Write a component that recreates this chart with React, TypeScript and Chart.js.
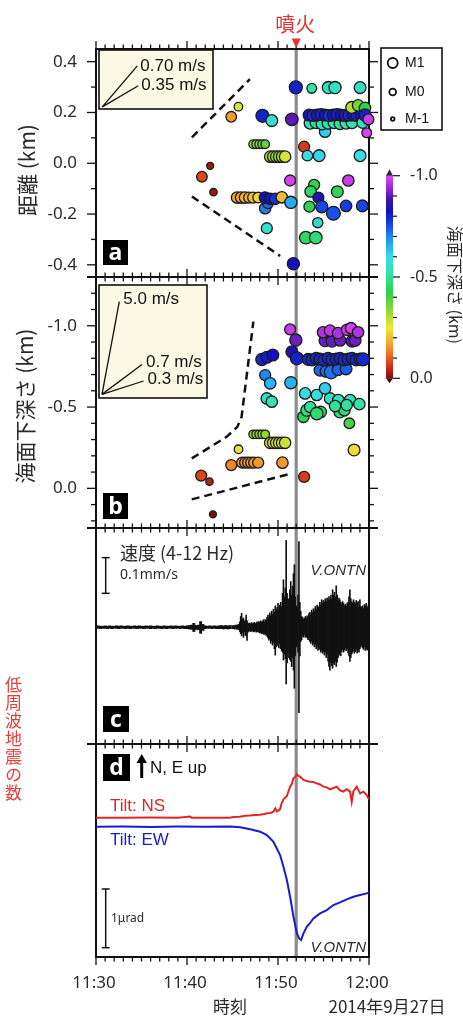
import React, { useEffect, useRef } from "react";
import { Chart, registerables } from "chart.js";
Chart.register(...registerables);

// ---------------- data ----------------
// time axis: minutes after 11:30
const xTickVals = [0, 10, 20, 30];
const xTickLabels = ["11:30", "11:40", "11:50", "12:00"];
const eruptionT = 22; // 11:52

// panel a: distance (km) vs time, colour = depth
const aT = [11.64, 12.55, 12.91, 14.86, 15.65, 17.27, 17.6, 17.93, 18.26, 18.59, 18.29, 19.32,
  19.14, 19.47, 19.8, 20.12, 20.45, 20.78,
  15.5, 15.94, 16.38, 16.83, 17.27, 17.82,
  18.77, 18.59, 18.9, 18.57, 19.14, 19.69, 20.42, 21.33, 21.41, 21.69, 21.96, 21.52,
  22.87, 23.23, 24.52, 29.02, 23.71, 25.54, 26.27, 29.02, 25.17,
  23.53, 24.19, 24.84, 25.5, 26.16, 26.82, 27.48, 28.14,
  23.42, 23.86, 24.3, 24.74, 25.18, 25.62, 26.06, 26.5, 26.93, 27.37, 27.81, 28.25, 28.69, 29.13,
  28.1, 28.8, 29.56, 29.3, 29.56, 29.75, 29.93,
  23.97, 23.58, 26.52, 27.73, 24.44, 23.45, 24.81, 26.09, 27.48, 29.27, 24.37, 23.05, 24.15];
const aDist = [-0.053, -0.01, -0.114, 0.183, 0.223, 0.075, 0.075, 0.075, 0.075, 0.075, 0.187, 0.168,
  0.026, 0.026, 0.026, 0.026, 0.026, 0.026,
  -0.135, -0.135, -0.135, -0.135, -0.135, -0.135,
  -0.256, -0.177, -0.157, -0.135, -0.14, -0.14, -0.134, -0.068, -0.154, -0.396, 0.299, 0.173,
  0.065, 0.03, 0.03, 0.03, 0.295, 0.298, 0.298, 0.298, 0.124,
  0.158, 0.16, 0.155, 0.158, 0.16, 0.156, 0.158, 0.16,
  0.19, 0.188, 0.19, 0.192, 0.19, 0.188, 0.19, 0.192, 0.19, 0.188, 0.19, 0.19, 0.188, 0.19,
  0.22, 0.228, 0.218, 0.16, 0.19, 0.12, 0.173,
  -0.085, -0.111, -0.112, -0.068, -0.135, -0.171, -0.171, -0.197, -0.168, -0.168, -0.234, -0.293, -0.293];
const aDepth = [-0.08, -0.02, -0.02, -0.16, -0.27, -0.33, -0.34, -0.35, -0.35, -0.38, -0.8, -0.56,
  -0.31, -0.32, -0.31, -0.33, -0.32, -0.27,
  -0.18, -0.17, -0.19, -0.18, -0.2, -0.23,
  -0.57, -0.7, -0.72, -0.82, -0.84, -0.78, -0.2, -0.99, -0.66, -0.82, -0.8, -0.9,
  -0.07, -0.6, -0.61, -0.6, -0.52, -0.54, -0.55, -0.55, -0.62,
  -0.55, -0.5, -0.56, -0.52, -0.55, -0.5, -0.54, -0.52,
  -0.83, -0.79, -0.85, -0.8, -0.83, -0.78, -0.84, -0.8, -0.82, -0.86, -0.79, -0.83, -0.8, -0.84,
  -0.3, -0.36, -0.42, -0.55, -0.8, -0.99, -0.98,
  -0.43, -0.45, -0.44, -0.98, -0.84, -0.43, -0.76, -0.75, -0.77, -0.76, -0.56, -0.45, -0.47];
const aMag = [0.2, -0.7, -0.6, 0.2, -0.3, -0.3, -0.3, -0.3, -0.3, -0.3, 0.8, 0.5,
  0.4, 0.4, 0.4, 0.4, 0.4, 0.4,
  0.4, 0.4, 0.4, 0.3, 0.3, 0.2,
  0.3, 0.4, 0.3, 0.4, 0.4, 0.4, 0.4, 0.3, 0.6, 0.6, 0.8, 0.7,
  0.3, 0.2, 0.5, 0.5, 0.0, 0.6, 0.6, 0.5, 0.4,
  0.5, 0.5, 0.5, 0.5, 0.5, 0.5, 0.5, 0.5,
  0.5, 0.5, 0.5, 0.5, 0.5, 0.5, 0.5, 0.5, 0.5, 0.5, 0.5, 0.5, 0.5, 0.5,
  0.5, 0.4, 0.4, 0.4, 0.6, 0.0, 0.3,
  0.3, 0.4, 0.5, 0.4, 0.3, 0.3, 0.6, 1.0, 0.4, 0.5, 0.1, 0.7, 0.7];

// panel b: depth below sea level (km) vs time
const bT = [11.56, 12.47, 12.85, 14.86, 15.66, 16.06, 16.39, 16.72, 17.05, 17.38, 17.82, 20.49,
  17.27, 17.6, 17.93, 18.26, 18.59, 19.14, 19.47, 19.8, 20.12, 20.45, 20.78, 22.87,
  18.77, 19.32, 18.59, 19.14, 21.41, 18.23, 18.77, 19.43, 21.33, 21.96, 21.52, 22.07,
  22.79, 23.16, 23.53, 24.7, 26.8, 27.3, 24.26,
  25.72, 26.63, 27.92, 28.94, 27.55, 26.27,
  22.98, 24.26, 25.17, 27.84, 28.36,
  24.62, 25.28, 25.83, 26.6, 27.48,
  23.31, 23.75, 24.19, 24.62, 25.06, 25.5, 25.94, 26.38, 26.82, 27.26, 27.7, 28.14, 28.58, 29.02, 29.35,
  25.17, 25.94, 26.82, 28.14, 28.47,
  24.95, 25.72, 26.6, 27.58, 28.03, 28.8];
const bDepth = [-0.078, -0.041, 0.16, -0.143, -0.24, -0.158, -0.158, -0.158, -0.158, -0.158, -0.158, -0.158,
  -0.332, -0.332, -0.332, -0.332, -0.332, -0.28, -0.28, -0.28, -0.28, -0.28, -0.28, -0.071,
  -0.553, -0.533, -0.697, -0.646, -0.65, -0.793, -0.806, -0.82, -0.978, -0.912, -0.84, -0.8,
  -0.44, -0.48, -0.5, -0.47, -0.47, -0.48, -0.46,
  -0.553, -0.543, -0.543, -0.518, -0.512, -0.506,
  -0.584, -0.574, -0.615, -0.4, -0.236,
  -0.727, -0.72, -0.715, -0.73, -0.735,
  -0.793, -0.79, -0.8, -0.795, -0.79, -0.8, -0.792, -0.795, -0.8, -0.79, -0.795, -0.8, -0.79, -0.795, -0.793,
  -0.908, -0.905, -0.91, -0.905, -0.91,
  -0.96, -0.97, -0.955, -0.975, -0.985, -0.96];
const bMag = [0.3, -0.6, -0.7, 0.3, -0.3, 0.3, 0.3, 0.3, 0.3, 0.3, 0.3, 0.4,
  -0.3, -0.3, -0.3, -0.3, -0.3, 0.4, 0.4, 0.4, 0.4, 0.4, 0.4, 0.3,
  0.4, 0.4, 0.3, 0.4, 0.6, 0.6, 0.5, 0.5, 0.3, 0.6, 0.5, 0.8,
  0.4, 0.5, 0.4, 0.4, 0.5, 0.4, 0.7,
  0.4, 0.4, 0.4, 0.4, 0.4, 0.4,
  0.4, 0.4, 0.4, 0.2, 0.5,
  0.5, 0.5, 0.9, 0.5, 0.5,
  0.5, 0.5, 0.5, 0.5, 0.5, 0.5, 0.5, 0.5, 0.5, 0.5, 0.5, 0.5, 0.5, 0.5, 0.8,
  0.5, 0.5, 0.4, 0.5, 0.5,
  0.4, 0.4, 0.4, 0.4, 0.4, 0.4];

// dashed guide lines
const aUpperT = [10.54, 16.91];
const aUpperY = [0.102, 0.331];
const aLowerT = [10.54, 20.23];
const aLowerY = [-0.131, -0.365];
const bUpperT = [10.52, 14.36, 15.53, 16.0, 17.29];
const bUpperY = [-0.184, -0.317, -0.378, -0.44, -1.025];
const bLowerT = [10.52, 21.13];
const bLowerY = [0.068, -0.086];

// velocity reference lines (m/s)
const aVel = [0.7, 0.35];
const aVelDt = [3.85, 3.96];
const aVelLabels = ["0.70 m/s", "0.35 m/s"];
const aVelOrigin = [0.69, 0.222];
const bVel = [5.0, 0.7, 0.3];
const bVelDt = [1.9, 4.39, 4.57];
const bVelLabels = ["5.0 m/s", "0.7 m/s", "0.3 m/s"];
const bVelOrigin = [0.66, -0.578];

// panel c: velocity seismogram envelope (mm/s), active part sampled every 0.1 min from 15.0
const waveT0 = 15.0;
const waveDt = 0.1;
const waveHi = [
  0.004, 0.005, 0.004, 0.006, 0.005, 0.007, 0.006, 0.008, 0.015, 0.03,
  0.039, 0.022, 0.026, 0.016, 0.02, 0.034, 0.018, 0.012, 0.01, 0.012,
  0.009, 0.013, 0.01, 0.011, 0.014, 0.01, 0.012, 0.015, 0.011, 0.016,
  0.013, 0.018, 0.014, 0.017, 0.021, 0.016, 0.022, 0.019, 0.028, 0.034,
  0.026, 0.04, 0.032, 0.045, 0.036, 0.05, 0.042, 0.06, 0.048, 0.055,
  0.067, 0.05, 0.062, 0.07, 0.058, 0.095, 0.133, 0.085, 0.11, 0.243,
  0.095, 0.08, 0.077, 0.105, 0.128, 0.09, 0.115, 0.15, 0.175, 0.085,
  0.06, 0.055, 0.09, 0.24, 0.07, 0.045, 0.03, 0.028, 0.022, 0.025,
  0.03, 0.024, 0.032, 0.028, 0.038, 0.042, 0.035, 0.048, 0.04, 0.052,
  0.045, 0.058, 0.05, 0.062, 0.055, 0.058, 0.07, 0.062, 0.077, 0.068,
  0.075, 0.07, 0.08, 0.072, 0.082, 0.078, 0.086, 0.075, 0.09, 0.08,
  0.105, 0.09, 0.098, 0.085, 0.116, 0.09, 0.075, 0.082, 0.077, 0.07,
  0.065, 0.072, 0.067, 0.06, 0.064, 0.058, 0.067, 0.07, 0.085, 0.105,
  0.08, 0.072, 0.068, 0.077, 0.07, 0.065, 0.075, 0.068, 0.072, 0.06,
  0.077, 0.058, 0.055, 0.06, 0.052, 0.064, 0.058, 0.067, 0.055, 0.06];
const waveLo = [
  -0.004, -0.004, -0.005, -0.005, -0.004, -0.006, -0.005, -0.007, -0.012, -0.018,
  -0.024, -0.016, -0.028, -0.013, -0.022, -0.024, -0.037, -0.014, -0.011, -0.01,
  -0.012, -0.011, -0.009, -0.013, -0.012, -0.01, -0.014, -0.012, -0.013, -0.014,
  -0.016, -0.015, -0.018, -0.016, -0.019, -0.02, -0.018, -0.023, -0.025, -0.03,
  -0.036, -0.032, -0.045, -0.038, -0.05, -0.042, -0.06, -0.078, -0.055, -0.048,
  -0.052, -0.058, -0.045, -0.06, -0.066, -0.07, -0.092, -0.075, -0.088, -0.159,
  -0.1, -0.072, -0.085, -0.09, -0.095, -0.11, -0.085, -0.12, -0.171, -0.08,
  -0.055, -0.05, -0.07, -0.239, -0.08, -0.04, -0.035, -0.025, -0.028, -0.02,
  -0.028, -0.026, -0.03, -0.035, -0.033, -0.04, -0.045, -0.038, -0.05, -0.045,
  -0.055, -0.048, -0.06, -0.052, -0.065, -0.058, -0.062, -0.07, -0.066, -0.073,
  -0.068, -0.078, -0.07, -0.085, -0.075, -0.095, -0.11, -0.12, -0.098, -0.108,
  -0.115, -0.1, -0.105, -0.095, -0.11, -0.098, -0.085, -0.078, -0.073, -0.08,
  -0.068, -0.062, -0.07, -0.064, -0.058, -0.066, -0.06, -0.072, -0.08, -0.096,
  -0.085, -0.075, -0.07, -0.065, -0.073, -0.068, -0.062, -0.072, -0.065, -0.07,
  -0.06, -0.055, -0.05, -0.058, -0.062, -0.055, -0.065, -0.06, -0.064, -0.058];
// quiet part sampled every 0.25 min from 0
const quietT0 = 0;
const quietDt = 0.25;
const quietHi = [
  0.003, 0.004, 0.003, 0.003, 0.004, 0.003, 0.004, 0.003, 0.003, 0.004,
  0.003, 0.004, 0.003, 0.003, 0.004, 0.003, 0.003, 0.004, 0.003, 0.004,
  0.003, 0.003, 0.004, 0.003, 0.004, 0.003, 0.003, 0.004, 0.003, 0.003,
  0.004, 0.003, 0.003, 0.004, 0.003, 0.004, 0.003, 0.003, 0.004, 0.003,
  0.004, 0.005, 0.006, 0.011, 0.005, 0.006, 0.016, 0.008, 0.004, 0.003,
  0.004, 0.003, 0.004, 0.003, 0.004, 0.005, 0.004, 0.005, 0.004, 0.005];
const quietLo = [
  -0.003, -0.003, -0.004, -0.003, -0.003, -0.004, -0.003, -0.004, -0.003, -0.003,
  -0.004, -0.003, -0.003, -0.004, -0.003, -0.004, -0.003, -0.003, -0.004, -0.003,
  -0.003, -0.004, -0.003, -0.003, -0.004, -0.003, -0.004, -0.003, -0.003, -0.004,
  -0.003, -0.004, -0.003, -0.003, -0.004, -0.003, -0.003, -0.004, -0.003, -0.004,
  -0.004, -0.005, -0.006, -0.012, -0.006, -0.007, -0.017, -0.009, -0.004, -0.003,
  -0.003, -0.004, -0.003, -0.004, -0.004, -0.004, -0.005, -0.004, -0.005, -0.004];

// panel d: tilt (microradian)
const nsT = [0, 3, 6, 9, 10.35, 10.5, 12, 14.7, 15.1, 15.8, 16.4, 16.9, 17.5, 18.0, 18.5, 18.8, 19.2, 19.5,
  19.7, 19.87, 20.0, 20.23, 20.4, 20.6, 20.97, 21.33, 21.5, 21.7, 21.9, 22.06, 22.3, 22.43, 22.8, 23.16,
  23.53, 23.89, 24.26, 24.62, 24.99, 25.36, 25.72, 26.09, 26.45, 26.82, 27.19, 27.55, 27.92, 28.1, 28.28,
  28.65, 29.02, 29.38, 29.75, 30];
const nsV = [0.154, 0.154, 0.155, 0.154, 0.175, 0.154, 0.154, 0.154, 0.165, 0.17, 0.185, 0.19, 0.2, 0.205,
  0.215, 0.228, 0.235, 0.256, 0.313, 0.26, 0.27, 0.3, 0.4, 0.466, 0.523, 0.682, 0.72, 0.824, 0.85, 0.892,
  0.86, 0.852, 0.796, 0.78, 0.767, 0.76, 0.739, 0.72, 0.682, 0.67, 0.637, 0.66, 0.682, 0.62, 0.597, 0.64,
  0.597, 0.426, 0.6, 0.682, 0.568, 0.597, 0.54, 0.466];
const ewT = [0, 3, 6, 9, 12, 14.7, 15.1, 15.84, 16.94, 18.04, 18.77, 19.5, 20.23, 20.6, 20.97, 21.33, 21.7,
  22.06, 22.3, 22.54, 22.8, 23.16, 23.53, 23.89, 24.26, 24.62, 25.36, 26.09, 26.82, 27.55, 28.28, 29.02,
  29.75, 30];
const ewV = [0, 0.003, -0.003, 0.002, 0, 0.002, 0, -0.011, -0.045, -0.085, -0.142, -0.256, -0.483, -0.682,
  -0.909, -1.193, -1.534, -1.806, -1.9, -1.931, -1.817, -1.704, -1.64, -1.562, -1.52, -1.477, -1.42,
  -1.335, -1.29, -1.238, -1.193, -1.165, -1.136, -1.12];

// axis ticks
const aTickVals = [0.4, 0.2, 0.0, -0.2, -0.4];
const aTickLabels = ["0.4", "0.2", "0.0", "-0.2", "-0.4"];
const bTickVals = [-1.0, -0.5, 0.0];
const bTickLabels = ["-1.0", "-0.5", "0.0"];
const cbTickVals = [-1.0, -0.5, 0.0];
const cbTickLabels = ["-1.0", "-0.5", "0.0"];
const legendMags = [1, 0, -1];
const legendLabels = ["M1", "M0", "M-1"];

// colour map: depth (km) -> colour
const cmapDepth = [0, -0.05, -0.1, -0.17, -0.25, -0.33, -0.42, -0.52, -0.6, -0.68, -0.75, -0.82, -0.88, -0.93, -1.0];
const cmapColor = ["#7a1010", "#c8281a", "#ec5a1c", "#f2a532", "#ece838", "#96d832", "#2ed248", "#32e2a8",
  "#36dcec", "#2299f2", "#1a4ee8", "#1212c0", "#3a14a0", "#8a24d4", "#e048f0"];

// ---------------- layout ----------------
const W = 463, H = 1016;
const PLOT_L = 96, PLOT_R = 369;
const PANEL_A = [49, 277], PANEL_B = [277, 528], PANEL_C = [528, 744], PANEL_D = [744, 957];
const SANS = '"Noto Sans", "Noto Sans CJK JP", sans-serif';
const JP = '"Noto Sans CJK JP", "Noto Sans", sans-serif';
const ARIAL = '"Liberation Sans", Arial, sans-serif';
const TXT = "#2a2a2a";

function hexRgb(h: string) {
  return [parseInt(h.slice(1, 3), 16), parseInt(h.slice(3, 5), 16), parseInt(h.slice(5, 7), 16)];
}
function depthColor(z: number) {
  const v = Math.max(-1, Math.min(0, z));
  for (let i = 0; i < cmapDepth.length - 1; i++) {
    const z0 = cmapDepth[i], z1 = cmapDepth[i + 1];
    if (v <= z0 && v >= z1) {
      const f = (z0 - v) / (z0 - z1);
      const a = hexRgb(cmapColor[i]), b = hexRgb(cmapColor[i + 1]);
      const c = a.map((q, k) => Math.round(q + (b[k] - q) * f));
      return `rgb(${c[0]},${c[1]},${c[2]})`;
    }
  }
  return cmapColor[cmapColor.length - 1];
}
const mRadius = (m: number) => 4.9 + 2.0 * m;

function line(ctx: any, x1: number, y1: number, x2: number, y2: number) {
  ctx.beginPath(); ctx.moveTo(x1, y1); ctx.lineTo(x2, y2); ctx.stroke();
}
function text(ctx: any, s: string, x: number, y: number, font: string, color: string, align = "left", rot = 0) {
  ctx.save();
  ctx.font = font; ctx.fillStyle = color; ctx.textAlign = align; ctx.textBaseline = "middle";
  ctx.translate(x, y); if (rot) ctx.rotate(rot);
  ctx.fillText(s, 0, 0);
  ctx.restore();
}
function eruptionLine(chart: any) {
  const { ctx, chartArea: ca, scales } = chart;
  const x = scales.x.getPixelForValue(eruptionT);
  ctx.save(); ctx.strokeStyle = "#8c8c8c"; ctx.lineWidth = 3.2;
  line(ctx, x, ca.top, x, ca.bottom); ctx.restore();
}
function frame(chart: any, extendTop: boolean) {
  const { ctx, chartArea: ca, scales } = chart;
  ctx.save();
  ctx.strokeStyle = "#111"; ctx.lineWidth = 1.3;
  for (let m = 0; m <= 30; m++) {
    const x = scales.x.getPixelForValue(m);
    const len = m % 10 === 0 ? 8 : 4.5;
    line(ctx, x, ca.top, x, ca.top - len);
    line(ctx, x, ca.bottom, x, ca.bottom + len);
  }
  ctx.lineWidth = 2;
  ctx.strokeRect(ca.left, ca.top, ca.right - ca.left, ca.bottom - ca.top);
  if (extendTop) line(ctx, ca.left - 9, ca.top, ca.right + 9, ca.top);
  ctx.restore();
}
function yTicks(chart: any, kmin: number, kmax: number, majorEvery: number) {
  const { ctx, chartArea: ca, scales } = chart;
  ctx.save(); ctx.strokeStyle = "#111"; ctx.lineWidth = 1.3;
  for (let k = kmin; k <= kmax; k++) {
    const y = scales.y.getPixelForValue(k / 10);
    const len = k % majorEvery === 0 ? 9 : 5;
    line(ctx, ca.left, y, ca.left - len, y);
    line(ctx, ca.right, y, ca.right + len, y);
  }
  ctx.restore();
}
function yLabels(chart: any, vals: number[], labels: string[]) {
  const { ctx, chartArea: ca, scales } = chart;
  vals.forEach((v, i) => text(ctx, labels[i], ca.left - 19, scales.y.getPixelForValue(v), `17px ${SANS}`, TXT, "right"));
}
function tag(ctx: any, s: string, x: number, y: number, w: number, h: number) {
  ctx.save();
  ctx.fillStyle = "#000"; ctx.fillRect(x, y, w, h);
  ctx.restore();
  text(ctx, s, x + w / 2, y + h / 2 + 1, `bold 23px "Open Sans", ${SANS}`, "#fff", "center");
}
function velLabels(chart: any, ds0: number, labels: string[], dx: number, dy: number) {
  const { ctx } = chart;
  labels.forEach((s, i) => {
    const meta = chart.getDatasetMeta(ds0 + i);
    const p = meta.data[1];
    text(ctx, s, p.x + dx, p.y + dy, `17px ${ARIAL}`, "#111", "left");
  });
}
function baseOptions(panel: number[], ymin: number, ymax: number, reverse: boolean) {
  return {
    responsive: false, animation: false, devicePixelRatio: 1, events: [],
    layout: { padding: { left: PLOT_L, right: W - PLOT_R, top: panel[0], bottom: H - panel[1] } },
    plugins: { legend: { display: false }, tooltip: { enabled: false } },
    scales: {
      x: { type: "linear", min: 0, max: 30, display: false, offset: false },
      y: { type: "linear", min: ymin, max: ymax, reverse, display: false },
    },
  };
}
const lineDs = (ts: number[], ys: number[], dash: number[], width: number, color = "#111") => ({
  type: "line", data: ts.map((t, i) => ({ x: t, y: ys[i] })), borderColor: color, borderWidth: width,
  borderDash: dash, pointRadius: 0, fill: false, clip: false, tension: 0,
});

function makeA(canvas: any) {
  const plugin = {
    id: "pa",
    beforeDatasetsDraw(chart: any) {
      const { ctx } = chart;
      eruptionLine(chart);
      ctx.save(); ctx.fillStyle = "#fbf9e3"; ctx.fillRect(99, 50, 114, 59);
      ctx.strokeStyle = "#111"; ctx.lineWidth = 1.6; ctx.strokeRect(99, 50, 114, 59); ctx.restore();
      frame(chart, false);
      yTicks(chart, -4, 4, 2);
      yLabels(chart, aTickVals, aTickLabels);
    },
    afterDatasetsDraw(chart: any) {
      velLabels(chart, 3, aVelLabels, 3, 0);
      tag(chart.ctx, "a", 103, 240, 25, 25);
    },
    afterDraw(chart: any) {
      const { ctx, scales } = chart;
      const xe = scales.x.getPixelForValue(eruptionT);
      text(ctx, "噴火", xe - 1, 24, `20px ${JP}`, "#e8312f", "center");
      ctx.save(); ctx.fillStyle = "#e8312f";
      ctx.beginPath(); ctx.moveTo(xe - 4.5, 38.5); ctx.lineTo(xe + 4.5, 38.5); ctx.lineTo(xe, 48); ctx.closePath(); ctx.fill();
      ctx.restore();
      text(ctx, "距離 (km)", 27, 170, `21px ${JP}`, TXT, "center", -Math.PI / 2);
      // legend
      ctx.save();
      ctx.fillStyle = "#fff"; ctx.fillRect(381, 48, 61, 82);
      ctx.strokeStyle = "#111"; ctx.lineWidth = 1.6; ctx.strokeRect(381, 48, 61, 82);
      const ly = [63, 92, 119];
      legendMags.forEach((m, i) => {
        ctx.beginPath(); ctx.arc(392.7, ly[i], 3.4 + 1.6 * m, 0, Math.PI * 2);
        ctx.fillStyle = "#fff"; ctx.fill(); ctx.lineWidth = 1.8; ctx.strokeStyle = "#111"; ctx.stroke();
        text(ctx, legendLabels[i], 405, ly[i], `14px ${ARIAL}`, "#111", "left");
      });
      ctx.restore();
      // colour bar
      const cbTop = 175.7, cbBot = 378.3, cbL = 386, cbR = 393;
      const yOf = (v: number) => cbBot + (cbTop - cbBot) * (-v);
      ctx.save();
      const g = ctx.createLinearGradient(0, cbBot, 0, cbTop);
      cmapDepth.forEach((d, i) => g.addColorStop(-d, cmapColor[i]));
      ctx.fillStyle = g; ctx.fillRect(cbL, cbTop, cbR - cbL, cbBot - cbTop);
      ctx.fillStyle = "#3a1a46";
      ctx.beginPath(); ctx.moveTo(cbL, cbTop); ctx.lineTo(cbR, cbTop); ctx.lineTo((cbL + cbR) / 2, cbTop - 6.5); ctx.closePath(); ctx.fill();
      ctx.fillStyle = "#3c0c0c";
      ctx.beginPath(); ctx.moveTo(cbL, cbBot); ctx.lineTo(cbR, cbBot); ctx.lineTo((cbL + cbR) / 2, cbBot + 5); ctx.closePath(); ctx.fill();
      ctx.strokeStyle = "#111"; ctx.lineWidth = 1.2;
      for (let k = 0; k <= 10; k++) {
        const y = yOf(-k / 10);
        line(ctx, cbR, y, cbR + (k % 5 === 0 ? 7 : 4), y);
      }
      ctx.restore();
      cbTickVals.forEach((v, i) => text(ctx, cbTickLabels[i], 410, yOf(v), `16px ${SANS}`, TXT, "left"));
      text(ctx, "海面下深さ (km)", 455, 285, `16px ${JP}`, TXT, "center", Math.PI / 2);
    },
  };
  const velDs = aVel.map((v, i) => lineDs(
    [aVelOrigin[0], aVelOrigin[0] + aVelDt[i]],
    [aVelOrigin[1], aVelOrigin[1] + v * aVelDt[i] * 0.06], [], 1.3));
  return new Chart(canvas, {
    type: "scatter",
    data: {
      datasets: [
        {
          type: "scatter", data: aT.map((t, i) => ({ x: t, y: aDist[i] })),
          pointRadius: aMag.map(mRadius), pointBackgroundColor: aDepth.map(depthColor),
          pointBorderColor: "#1b1b1b", pointBorderWidth: 1.3, clip: false,
        },
        lineDs(aUpperT, aUpperY, [8, 5], 2.5),
        lineDs(aLowerT, aLowerY, [8, 5], 2.5),
        ...velDs,
      ] as any,
    },
    options: baseOptions(PANEL_A, -0.448, 0.45, false) as any,
    plugins: [plugin],
  });
}

function makeB(canvas: any) {
  const plugin = {
    id: "pb",
    beforeDatasetsDraw(chart: any) {
      const { ctx } = chart;
      eruptionLine(chart);
      ctx.save(); ctx.fillStyle = "#fbf9e3"; ctx.fillRect(99, 285, 108, 113);
      ctx.strokeStyle = "#111"; ctx.lineWidth = 1.6; ctx.strokeRect(99, 285, 108, 113); ctx.restore();
      frame(chart, true);
      yTicks(chart, -12, 2, 5);
      yLabels(chart, bTickVals, bTickLabels);
    },
    afterDatasetsDraw(chart: any) {
      velLabels(chart, 3, bVelLabels, 4, -2);
      tag(chart.ctx, "b", 103, 493, 25, 26);
    },
    afterDraw(chart: any) {
      text(chart.ctx, "海面下深さ (km)", 25, 406, `21px ${JP}`, TXT, "center", -Math.PI / 2);
    },
  };
  const velDs = bVel.map((v, i) => lineDs(
    [bVelOrigin[0], bVelOrigin[0] + bVelDt[i]],
    [bVelOrigin[1], bVelOrigin[1] - v * bVelDt[i] * 0.06], [], 1.3));
  return new Chart(canvas, {
    type: "scatter",
    data: {
      datasets: [
        {
          type: "scatter", data: bT.map((t, i) => ({ x: t, y: bDepth[i] })),
          pointRadius: bMag.map(mRadius), pointBackgroundColor: bDepth.map(depthColor),
          pointBorderColor: "#1b1b1b", pointBorderWidth: 1.3, clip: false,
        },
        lineDs(bUpperT, bUpperY, [8, 5], 2.5),
        lineDs(bLowerT, bLowerY, [8, 5], 2.5),
        ...velDs,
      ] as any,
    },
    options: baseOptions(PANEL_B, -1.3, 0.244, true) as any,
    plugins: [plugin],
  });
}

function makeC(canvas: any) {
  const plugin = {
    id: "pc",
    beforeDatasetsDraw(chart: any) {
      eruptionLine(chart);
      frame(chart, true);
    },
    afterDatasetsDraw(chart: any) {
      const { ctx, scales } = chart;
      const y1 = scales.y.getPixelForValue(0.095), y2 = scales.y.getPixelForValue(0.195);
      ctx.save(); ctx.strokeStyle = "#111"; ctx.lineWidth = 1.5;
      line(ctx, 105.7, y1, 105.7, y2); line(ctx, 101.7, y1, 109.7, y1); line(ctx, 101.7, y2, 109.7, y2);
      ctx.restore();
      text(ctx, "速度 (4-12 Hz)", 120, 553, `18px ${JP}`, TXT, "left");
      text(ctx, "0.1mm/s", 120, 575, `14px ${SANS}`, TXT, "left");
      text(ctx, "V.ONTN", 366, 571, `italic 15px ${ARIAL}`, TXT, "right");
      tag(ctx, "c", 103, 706, 26, 26);
    },
  };
  return new Chart(canvas, {
    type: "scatter",
    data: {
      datasets: [
        {
          type: "bar", data: waveHi.map((h, i) => ({ x: waveT0 + i * waveDt, y: [waveLo[i], h] })),
          backgroundColor: "#111", borderWidth: 0, barThickness: 1.0, grouped: false,
        },
        {
          type: "bar", data: quietHi.map((h, i) => ({ x: quietT0 + i * quietDt, y: [quietLo[i], h] })),
          backgroundColor: "#111", borderWidth: 0, barThickness: 2.3, grouped: false,
        },
      ] as any,
    },
    options: baseOptions(PANEL_C, -0.327, 0.278, false) as any,
    plugins: [plugin],
  });
}

function makeD(canvas: any) {
  const plugin = {
    id: "pd",
    beforeDatasetsDraw(chart: any) {
      eruptionLine(chart);
      frame(chart, true);
    },
    afterDatasetsDraw(chart: any) {
      const { ctx, scales } = chart;
      tag(ctx, "d", 103, 754, 27, 27);
      ctx.save(); ctx.strokeStyle = "#000"; ctx.fillStyle = "#000"; ctx.lineWidth = 3;
      line(ctx, 141.7, 778, 141.7, 761);
      ctx.beginPath(); ctx.moveTo(136.5, 763); ctx.lineTo(146.9, 763); ctx.lineTo(141.7, 754); ctx.closePath(); ctx.fill();
      ctx.restore();
      text(ctx, "N, E up", 150, 768, `17px ${ARIAL}`, "#111", "left");
      text(ctx, "Tilt: NS", 110, 806, `17px ${ARIAL}`, "#e02626", "left");
      text(ctx, "Tilt: EW", 110, 840, `17px ${ARIAL}`, "#1c1cc8", "left");
      const y1 = scales.y.getPixelForValue(-1.061), y2 = scales.y.getPixelForValue(-2.061);
      ctx.save(); ctx.strokeStyle = "#111"; ctx.lineWidth = 1.5;
      line(ctx, 105.7, y1, 105.7, y2); line(ctx, 101.7, y1, 109.7, y1); line(ctx, 101.7, y2, 109.7, y2);
      ctx.restore();
      text(ctx, "1μrad", 111, 919, `12px ${SANS}`, TXT, "left");
      text(ctx, "V.ONTN", 366, 948, `italic 15px ${ARIAL}`, TXT, "right");
    },
    afterDraw(chart: any) {
      const { ctx, scales } = chart;
      xTickVals.forEach((v, i) => text(ctx, xTickLabels[i], scales.x.getPixelForValue(v) - 2, 983, `17px ${SANS}`, TXT, "center"));
      text(ctx, "時刻", 230, 1007, `17px ${JP}`, TXT, "center");
      text(ctx, "2014年9月27日", 387, 1007, `17px ${JP}`, TXT, "center");
    },
  };
  return new Chart(canvas, {
    type: "scatter",
    data: {
      datasets: [
        lineDs(nsT, nsV, [], 2, "#e42424"),
        lineDs(ewT, ewV, [], 2, "#1a1ad2"),
      ] as any,
    },
    options: baseOptions(PANEL_D, -2.22, 1.409, false) as any,
    plugins: [plugin],
  });
}

export default function App() {
  const r1 = useRef<HTMLCanvasElement>(null);
  const r2 = useRef<HTMLCanvasElement>(null);
  const r3 = useRef<HTMLCanvasElement>(null);
  const r4 = useRef<HTMLCanvasElement>(null);
  useEffect(() => {
    const charts = [makeA(r1.current), makeB(r2.current), makeC(r3.current), makeD(r4.current)];
    return () => charts.forEach((c) => c.destroy());
  }, []);
  const cv: any = { position: "absolute", left: 0, top: 0 };
  return (
    <div style={{ position: "absolute", left: 0, top: 0, width: W, height: H, background: "#fff", overflow: "hidden" }}>
      <canvas ref={r1} width={W} height={H} style={cv} />
      <canvas ref={r2} width={W} height={H} style={cv} />
      <canvas ref={r3} width={W} height={H} style={cv} />
      <canvas ref={r4} width={W} height={H} style={cv} />
      <div style={{
        position: "absolute", left: 5, top: 676, writingMode: "vertical-rl", color: "#e2403c",
        fontFamily: JP, fontSize: 17, lineHeight: 1, letterSpacing: 1,
      }}>低周波地震の数</div>
    </div>
  );
}
